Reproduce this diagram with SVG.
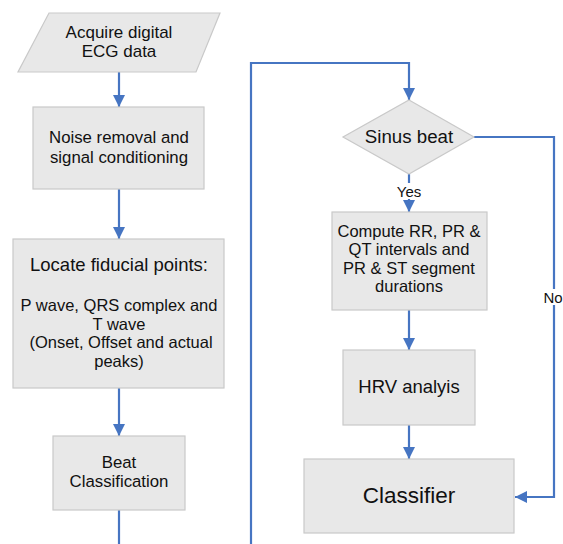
<svg xmlns="http://www.w3.org/2000/svg" width="563" height="544" viewBox="0 0 563 544">
<defs>
<style>
.n{fill:#e8e8e8;stroke:#c9c9c9;stroke-width:1.2}
.t{font-family:"Liberation Sans",Arial,sans-serif;fill:#111;text-anchor:middle}
.c{fill:none;stroke:#4675c2;stroke-width:2.2}
.lbl{font-family:"Liberation Sans",Arial,sans-serif;fill:#111;font-size:15px;text-anchor:middle}
</style>
<marker id="ah" markerWidth="12" markerHeight="12" refX="12" refY="6" orient="auto" markerUnits="userSpaceOnUse">
<path d="M0,0 L12,6 L0,12 Z" fill="#4675c2"/>
</marker>
</defs>
<rect width="563" height="544" fill="#fff"/>
<g id="connectors">
<path class="c" d="M119,72 V107" marker-end="url(#ah)"/>
<path class="c" d="M119,189 V239" marker-end="url(#ah)"/>
<path class="c" d="M119,388 V436" marker-end="url(#ah)"/>
<path class="c" d="M119,510 V544"/>
<path class="c" d="M251,544 V63 H409 V100" marker-end="url(#ah)"/>
<path class="c" d="M409,174 V212" marker-end="url(#ah)"/>
<path class="c" d="M409,310 V350" marker-end="url(#ah)"/>
<path class="c" d="M409,425 V459" marker-end="url(#ah)"/>
<path class="c" d="M474,137 H554 V497 H515" marker-end="url(#ah)"/>
<rect x="395" y="183" width="28" height="16" fill="#fff"/>
<text class="lbl" x="409" y="197">Yes</text>
<rect x="540" y="289" width="28" height="16" fill="#fff"/>
<text class="lbl" x="553" y="303">No</text>
</g>
<g id="acquire">
<polygon class="n" points="49,13 220,13 196,72 18,72"/>
<text class="t" font-size="17" x="119" y="38">Acquire digital</text>
<text class="t" font-size="17" x="119" y="57">ECG data</text>
</g>
<g id="noise">
<rect class="n" x="33" y="107" width="171" height="82"/>
<text class="t" font-size="16.8" x="119" y="143">Noise removal and</text>
<text class="t" font-size="16.8" x="119" y="163">signal conditioning</text>
</g>
<g id="locate">
<rect class="n" x="13" y="239" width="211" height="149"/>
<text class="t" font-size="18.5" x="119" y="271">Locate fiducial points:</text>
<text class="t" font-size="16.5" x="119" y="311">P wave, QRS complex and</text>
<text class="t" font-size="16.5" x="119" y="330">T wave</text>
<text class="t" font-size="16.5" x="121" y="348">(Onset, Offset and actual</text>
<text class="t" font-size="16.5" x="119" y="367">peaks)</text>
</g>
<g id="beat">
<rect class="n" x="53" y="436" width="132" height="74"/>
<text class="t" font-size="16.8" x="119" y="468">Beat</text>
<text class="t" font-size="16.8" x="119" y="487">Classification</text>
</g>
<g id="sinus">
<polygon class="n" points="409,100 474,137 409,174 343,137"/>
<text class="t" font-size="18.7" x="409" y="143">Sinus beat</text>
</g>
<g id="compute">
<rect class="n" x="332" y="212" width="155" height="98"/>
<text class="t" font-size="16.5" x="409" y="237">Compute RR, PR &amp;</text>
<text class="t" font-size="16.5" x="409" y="255">QT intervals and</text>
<text class="t" font-size="16.5" x="409" y="274">PR &amp; ST segment</text>
<text class="t" font-size="16.5" x="409" y="292">durations</text>
</g>
<g id="hrv">
<rect class="n" x="343" y="350" width="132" height="75"/>
<text class="t" font-size="18.5" x="409" y="393">HRV analyis</text>
</g>
<g id="classifier">
<rect class="n" x="304" y="459" width="210" height="74"/>
<text class="t" font-size="22.5" x="409" y="503">Classifier</text>
</g>
</svg>
